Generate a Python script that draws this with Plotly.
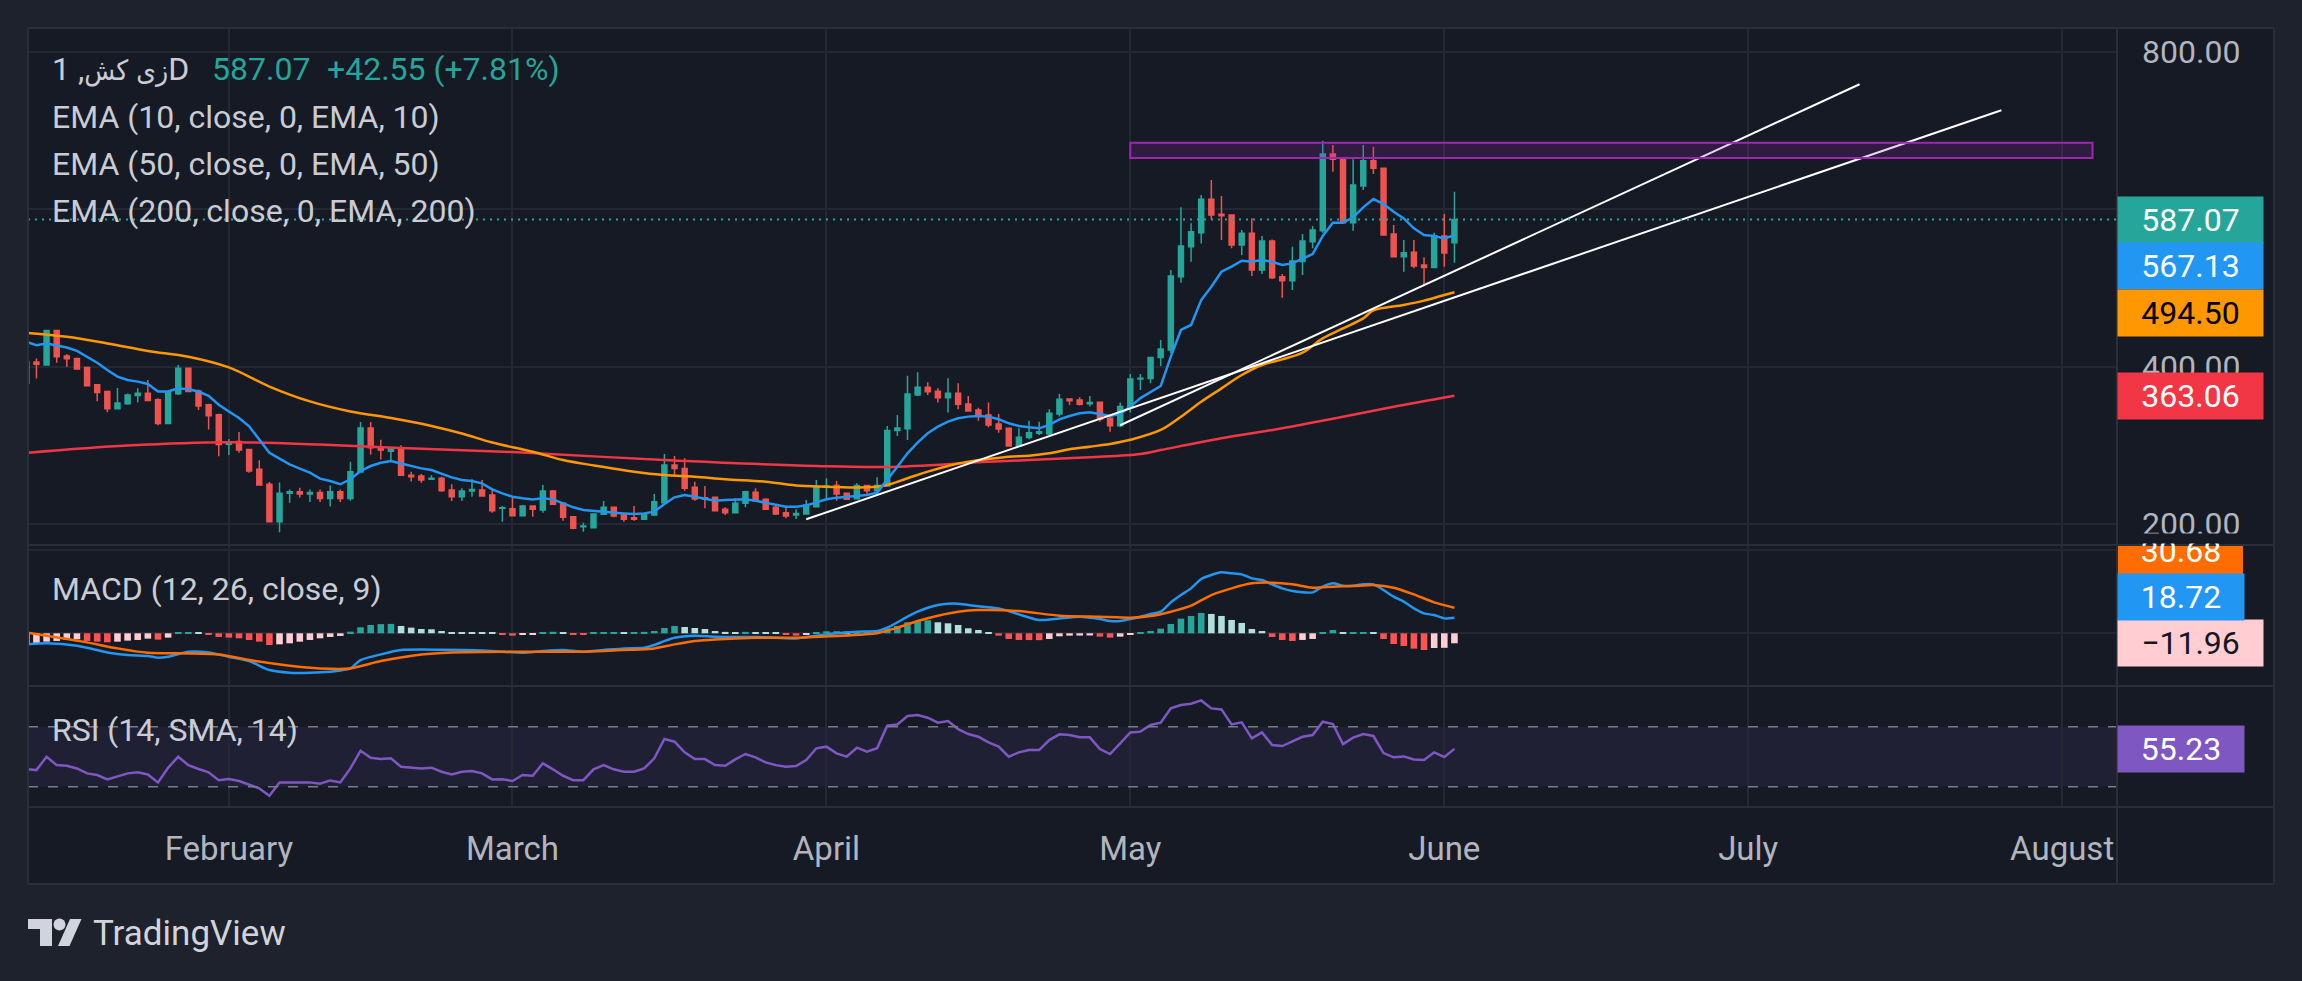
import pandas as pd
import plotly.graph_objects as go
from plotly.subplots import make_subplots

YEAR = "2023-"
FIRST_DAY = "2023-01-12"

# daily bars, one line per month: Jan 12-31, Feb, Mar, Apr, May, Jun 1-2
bar_open = [
    379, 406, 402, 446, 413.5, 410.5, 399, 377, 368.4, 346.5, 352.8, 363.4, 366.3, 358, 327.6, 365.5, 398, 369, 351.6, 339,
    301.5, 305, 294.7, 269.5, 250.5, 203, 239, 241, 238, 240, 232.4, 241, 232.4, 266, 322, 298, 292.6, 297, 262, 261, 257, 258, 243.2, 234.7, 242, 243.2, 236.8, 219.9,
    219.5, 210.6, 222.9, 217.8, 241.9, 226.3, 209.3, 196.6, 195.3, 212.3, 221.2, 211.4, 208, 205.9, 211.4, 227.1, 275, 270.7, 246.6, 233.4, 233.9, 218.6, 214.4, 226.3, 240.2, 231.3, 221.2, 214.4, 211.4, 212.7, 222,
    246.6, 249, 239, 232.2, 249, 242.4, 248.3, 318.7, 321.2, 364, 373.8, 368.7, 360.6, 366.1, 352.6, 345, 338.6, 327.2, 321.6, 299.2, 309.8, 315.3, 314.4, 339.9, 359, 357.7, 353, 354.7, 334.4, 325,
    348.3, 384.4, 385.1, 411.8, 421.2, 514.4, 552.5, 570.3, 612.7, 593.6, 592.8, 554.6, 569.5, 522.8, 559.7, 514.4, 509.3, 533.7, 558.9, 572.8, 670.3, 663.5, 583, 629.6, 661.8, 652.1, 568.6, 539.8, 545.3, 529.2, 526.2,
    566.1, 557.6,
]
bar_high = [
    408, 410.5, 447, 447, 416, 411, 400, 377, 369.7, 373, 366, 372.6, 383, 360, 368, 402, 399, 371, 353, 340,
    308, 317, 295, 281, 253.5, 252.6, 244, 246, 244, 244, 249, 244, 279, 329.7, 329.7, 307, 295.6, 300, 266.5, 263.5, 262, 260, 250.4, 245.3, 256.8, 255.9, 243.2, 222.9,
    233.5, 224, 222.9, 249.6, 243.2, 227.1, 210.1, 201.7, 213.5, 229.2, 221.2, 213.5, 222.9, 213.5, 238.1, 289, 286.4, 283.5, 253.8, 248.3, 233.9, 221.2, 232.6, 242.4, 245.3, 232.6, 224.1, 222.9, 218.6, 230.5, 256,
    258, 254.7, 239, 251.7, 249, 259.4, 324.6, 338.6, 388.6, 392.8, 380.1, 372.5, 385.2, 378.8, 362.7, 347.9, 354.3, 339.9, 321.6, 321.6, 331.4, 330.1, 345.8, 365.3, 359.8, 361, 362.7, 354.7, 336.5, 354.3,
    390.7, 390.7, 412.7, 433.9, 522.8, 602.5, 582.2, 618.2, 637.2, 616.9, 592.8, 573.7, 588.5, 566.1, 561.8, 517.8, 552.5, 568.6, 578.8, 687.2, 681.7, 665, 663.5, 681.7, 679.6, 652.1, 580, 561, 561, 539, 570.3,
    594, 622.4,
]
bar_low = [
    378, 385, 402, 405, 400, 397, 375.6, 356, 342, 346.5, 351.6, 354.5, 357, 325.5, 327.6, 364, 368.4, 345, 320, 286,
    287.6, 290.5, 265, 249.7, 203, 189.5, 227, 233.7, 228, 228, 222.3, 228, 229.6, 266, 288.4, 282, 280, 262, 254, 252.5, 257, 241, 229.2, 229.2, 234.7, 234.7, 214.4, 203,
    210.6, 210.6, 209.3, 214.4, 225, 204.2, 193.2, 190.2, 195.3, 211.4, 208.5, 203, 204.2, 205, 210.1, 227.1, 262.3, 242.4, 229.6, 219.9, 216, 211.4, 214.4, 221.2, 228.4, 217.8, 211.4, 207.2, 206.3, 212.7, 222,
    232.7, 229.7, 230.5, 232.2, 235.6, 242.4, 248.3, 311.9, 306.8, 362.7, 364, 354.3, 341.6, 345.8, 342.8, 331.4, 322.9, 316.1, 298.3, 299.2, 307.7, 313.2, 313.2, 336.5, 351.3, 350.5, 349.2, 330.1, 317.4, 322.9,
    341.6, 370.4, 378.8, 400.8, 416.9, 506.8, 533.4, 556.7, 587.2, 561, 550.4, 541.9, 515.2, 517.8, 511.4, 487.7, 497.4, 516.5, 550.4, 570.3, 647.8, 582, 572.8, 624.5, 644.9, 567.3, 539.8, 520.7, 525, 503.8, 526.2,
    527.1, 532,
]
bar_close = [
    406, 403, 446, 412.6, 410, 397, 375.6, 367, 346.5, 353.7, 364, 366.3, 357, 327.6, 367.6, 398, 368.4, 350, 337.7, 301,
    304.4, 294, 267.4, 249.7, 203, 239, 241, 238, 240, 232.4, 241, 232.4, 266.5, 322, 297, 294, 295.6, 262, 260, 255.9, 258, 242.4, 234.7, 241.9, 244, 235.6, 216.9, 220.8,
    210.6, 222.9, 218.6, 241.9, 225, 208.5, 194.5, 197.5, 212.7, 221.2, 210.1, 205.9, 205.9, 212.3, 228.4, 275, 270.7, 245.3, 231.8, 231.8, 216.9, 214.4, 226.3, 241.1, 229.6, 218.6, 212.7, 210.1, 213.5, 224.1, 247.5,
    248.3, 238, 231.4, 249, 242.4, 249, 318.7, 322, 365.3, 373.8, 368.2, 360.6, 366.1, 352.1, 343.7, 338.6, 325.9, 320.8, 299.2, 310.2, 316.1, 317.4, 340.7, 358.5, 356.8, 352.1, 354.3, 333.1, 325, 349.2,
    384.4, 385.2, 411.8, 422.4, 515.2, 553.4, 571.6, 612.7, 592.8, 591.9, 554.6, 569.5, 522.8, 559.7, 513.1, 509.3, 534.3, 559.7, 573.7, 670.3, 663.5, 583, 630.9, 661.8, 652.1, 567.3, 539.8, 544.9, 527.9, 526.2, 566.1,
    544.52, 587.07,
]
ema10 = [
    431.6, 427.4, 429.5, 427.4, 424.4, 420, 412.6, 405, 395.8, 387.4, 383, 381, 378, 368.4, 368.4, 372.6, 371.4, 368.4, 363, 351.6,
    343, 334.7, 324.2, 307.4, 290.5, 283, 275.8, 270.3, 265.3, 257.7, 254.7, 250.5, 256.8, 267.4, 273.7, 277.9, 280, 277, 273.7, 270.7, 268.6, 263.5, 259.3, 255.9, 254.6, 251.7, 244, 239,
    234.7, 232.6, 231.3, 232.6, 231.3, 226.3, 221.2, 217.8, 216.5, 215.7, 214.8, 213.5, 212.7, 213.5, 215.7, 225.4, 233.9, 236.8, 234.7, 232.6, 229.6, 230.5, 230.5, 231.3, 229.6, 227.1, 224.1, 222, 222, 223.5, 227.5,
    231.4, 233.5, 234.8, 235.6, 236.9, 239.9, 256, 272.9, 289.9, 303.4, 315.3, 323.8, 330.1, 334.4, 336.5, 337.3, 336.5, 333.1, 328, 324.6, 322.9, 321.6, 325.9, 333.1, 337.3, 340.7, 342, 339.9, 337.3, 340,
    349.2, 360, 368.2, 375.4, 412.7, 446.6, 453, 484.7, 501.7, 520.7, 527.1, 534.7, 533.4, 535.6, 533.4, 529.2, 531.3, 537.7, 543.2, 566.1, 583, 583, 589.8, 602.5, 613.1, 606.7, 597, 588.5, 575.8, 567.3, 566.1,
    563.1, 567.13,
]
macd_hist = [
    -13.2, -12, -10, -9.2, -8, -7.2, -9.2, -10, -10.8, -10, -8.8, -8, -6.4, -7.6, -5.2, 0.8, 1.0, 0.6, -1.2, -4.4,
    -5.2, -6, -8, -10, -14, -13.2, -12, -10, -8, -6, -4.4, -3.2, 2, 7.2, 10, 11, 11.3, 8.8, 6.8, 5.2, 4.8, 2.8, 1.6, 1.3, 1.2, 0.9, 0.8, -1.6,
    -2.8, -1.6, -1.4, 1.6, 1.8, 0.8, -1.2, -1.4, 0.4, 0.8, 1.6, 1.2, 1.6, 1.7, 2.8, 6.4, 8.8, 7.6, 6.4, 5.2, 2.8, 1.7, 1.5, 1.7, 1.6, 0.8, 0.6, -1.2, -2.8, -1.2, 0.8,
    2.4, 2.5, 2.0, 2.2, 2.4, 2.8, 6, 8.8, 13.2, 14.4, 15.6, 13.2, 12, 10, 6, 4, 0.8, -2.8, -6.8, -8, -8.1, -8.2, -6.8, -3.6, -2.8, -2.7, -2.6, -4, -5.2, -4,
    -2, 0.8, 2.8, 5.6, 11.2, 17.6, 20.8, 24.4, 23.2, 20.8, 16, 12.4, 5.2, 2.8, -4.4, -8, -9.2, -8, -6.8, 0.8, 4, 0.8, 1.0, 1.6, 1.4, -6.8, -12.8, -15.2, -18.4, -20, -17.6,
    -17.4, -11.96,
]
rsi = [
    41.8, 41.1, 50, 44.4, 44, 42.2, 38.9, 37.8, 34.9, 36.7, 38.9, 39.6, 38.2, 32.9, 42.7, 50, 44.4, 41.8, 39.6, 34.4,
    35.1, 33.8, 31.1, 28.9, 24, 32.9, 32.9, 32.9, 32.9, 32, 34.2, 32.9, 42.2, 54, 49.3, 48.4, 48.9, 43.3, 42.7, 42.2, 42.7, 40, 38.2, 40, 40.4, 38.9, 34.9, 35,
    33.8, 37.8, 37.3, 45.6, 41.6, 37.3, 34.4, 34.4, 41.6, 44.4, 41.6, 40, 40, 42.2, 48.9, 61.8, 60, 52.9, 48.4, 48.4, 44.4, 44, 48.2, 51.8, 49.6, 46.2, 44.4, 43.3, 43.8, 47.8, 55.6,
    56.7, 52.2, 50, 56, 53.3, 55.6, 70.7, 71.5, 77.1, 77.8, 76, 72.7, 73.8, 68.4, 65.1, 63.3, 59.5, 56.7, 50, 52.9, 54.4, 54.4, 61.1, 64.9, 64.4, 62.9, 62.9, 55.1, 51.8, 58.9,
    66.2, 66.7, 71.1, 72.7, 82.2, 84.4, 85.3, 87.5, 82.2, 81.5, 71.5, 72.9, 62.2, 66.2, 57.8, 57.1, 60, 63.3, 64.4, 73.3, 71.8, 58.4, 62.7, 65.1, 63.8, 52.4, 49.6, 50.2, 48.2, 47.8, 52.9,
    49.8, 55.23,
]

# slower lines, read at sample days
ema50_days = [
    "01-12", "01-16", "01-20", "01-24", "01-28",
    "02-01", "02-05", "02-09", "02-13", "02-17", "02-21", "02-24", "02-27",
    "03-03", "03-06", "03-09", "03-13", "03-16", "03-19", "03-22", "03-26", "03-29",
    "04-01", "04-05", "04-07", "04-09", "04-11", "04-13", "04-15", "04-17", "04-19", "04-21", "04-23", "04-25", "04-27", "04-29",
    "05-01", "05-04", "05-06", "05-08", "05-10", "05-12", "05-14", "05-16", "05-18", "05-20", "05-22", "05-24", "05-25", "05-28", "05-30",
    "06-01", "06-02",
]
ema50 = [
    443, 438, 429.5, 420, 412.6,
    399, 374.7, 355.8, 343, 334.7, 324.6, 315, 303.5,
    291.9, 281.3, 274.5, 266.5, 262.3, 260.2, 257, 253.8, 249,
    247.5, 246.6, 249.6, 258.1, 266.6, 273.8, 279.3, 282.7, 285.6, 286.9, 289.9, 295, 298.3, 301.7,
    307, 319.5, 336.4, 355.5, 372.4, 389.4, 402.1, 409.3, 417.8, 436, 448.7, 461.4, 471.5, 478.4, 483.9,
    491.1, 494.5,
]
ema200_days = ["01-12", "01-22", "02-01", "02-10", "02-18", "03-01", "03-16", "03-31", "04-07",
               "04-17", "04-27", "05-02", "05-04", "05-10", "05-16", "05-22", "05-27", "06-02"]
ema200 = [290.5, 299.8, 304, 301, 296.5, 291.5, 281.3, 273.7, 272.5,
          279, 284.8, 289, 294, 308.9, 321.6, 336.4, 349.1, 363.06]

macd_days = [
    "01-12", "01-14", "01-17", "01-20", "01-22", "01-24", "01-25", "01-26", "01-28", "01-30",
    "02-01", "02-03", "02-05", "02-07", "02-09", "02-11", "02-12", "02-13", "02-14", "02-16", "02-18", "02-22", "02-26", "02-28",
    "03-02", "03-04", "03-06", "03-08", "03-10", "03-12", "03-14", "03-15", "03-16", "03-17", "03-19", "03-21", "03-23", "03-25", "03-27", "03-29", "03-31",
    "04-02", "04-04", "04-06", "04-07", "04-08", "04-09", "04-10", "04-11", "04-12", "04-13", "04-14", "04-15", "04-16", "04-18", "04-20", "04-22", "04-24", "04-26", "04-28", "04-29", "04-30",
    "05-01", "05-02", "05-03", "05-04", "05-05", "05-06", "05-07", "05-08", "05-09", "05-10", "05-11", "05-12", "05-13", "05-14", "05-15", "05-16",
    "05-17", "05-18", "05-19", "05-20", "05-21", "05-22", "05-23", "05-24", "05-25", "05-26", "05-27", "05-28", "05-29", "05-30", "05-31",
    "06-01", "06-02",
]
macd_line = [
    -13.3, -12, -14.9, -22.9, -26.1, -27.3, -29.3, -28.1, -22.1, -22.9,
    -28.1, -33.3, -44.1, -47.3, -47.3, -46.1, -44.5, -42.1, -32.1, -25.3, -20.1, -19.7, -20.5, -22.1,
    -23.3, -21.3, -20.1, -22.1, -20.1, -18.1, -17.3, -14.1, -9.3, -5.3, -2.9, -4.1, -4.5, -4.5, -5.3, -6.1, -2.9,
    0, 1.9, 2.7, 6.7, 13.1, 19.9, 25.9, 30.7, 33.9, 35.5, 35.5, 33.9, 32.5, 29.9, 22.7, 15.9, 17.9, 19.9, 17.1, 14.7, 14.7,
    17.1, 19.9, 23.1, 25.9, 37.1, 45.9, 53.9, 65.1, 69.9, 73.1, 71.9, 70.7, 65.9, 63.9, 58.7, 53.9,
    50.7, 49.1, 49.1, 55.9, 59.9, 57.1, 57.1, 58.7, 58.7, 51.9, 43.9, 37.9, 29.9, 23.9, 21.9,
    17.9, 18.72,
]
signal_days = [
    "01-12", "01-14", "01-18", "01-21", "01-24", "01-28", "01-31",
    "02-03", "02-07", "02-10", "02-13", "02-16", "02-20", "02-23", "02-28",
    "03-04", "03-08", "03-12", "03-15", "03-17", "03-19", "03-21", "03-25", "03-29",
    "04-02", "04-06", "04-08", "04-10", "04-12", "04-14", "04-16", "04-20", "04-24", "04-28",
    "05-01", "05-03", "05-05", "05-07", "05-09", "05-11", "05-13", "05-15", "05-17", "05-19", "05-21", "05-23", "05-25", "05-27", "05-29", "05-31",
    "06-02",
]
signal_line = [
    1.1, -2.9, -10.9, -18.1, -23.3, -24.1, -25.3,
    -32.1, -38.9, -42.1, -42.1, -33.3, -25.3, -22.9, -22.1,
    -22.1, -22.1, -20.1, -18.1, -13.3, -9.3, -7.3, -5.3, -5.3,
    -3.3, 0, 6.7, 14.7, 21.1, 25.9, 27.9, 26.7, 21.1, 19.9,
    18.7, 20.7, 25.9, 33.1, 45.9, 53.9, 59.9, 60.7, 58.7, 54.7, 55.9, 56.7, 57.9, 54.7, 46.7, 37.1,
    30.68,
]

# drawings on the price pane
trend_days = [("03-30", "07-26"), ("04-30", "07-12")]
trend_prices = [(206, 726), (325.5, 759)]
zone_days = ("05-01", "08-04")
zone_prices = (665.2, 684.7)

symbol_name = "زی کش"
price_change = 42.55
price_change_pct = 7.81

GREEN = "#26a69a"
RED = "#ef5350"
OUTER = "#1e222d"
PANE = "#161a25"
GRID = "#242833"
BORDER = "#2a2e39"
TEXT = "#c9ccd4"
SCALE_TEXT = "#b2b5be"
FONT = "Roboto"

# pixel frame of the panes
PL, PR, PT, PB = 28, 2117, 28, 807
SCALE_R = 2274
TIME_B = 884
PANE_H = [517, 141, 121]


def fx(px):
    return (px - PL) / (PR - PL)


def fy(py):
    return (PB - py) / (PB - PT)


def full(days):
    return [YEAR + d for d in days]


days = pd.date_range(FIRST_DAY, periods=len(bar_close), freq="D")

hist_colors = []
prev = macd_hist[0]
for h in macd_hist:
    if h >= 0:
        hist_colors.append("#26a69a" if h > prev else "#b2dfdb")
    else:
        hist_colors.append("#ff5252" if h < prev else "#ffcdd2")
    prev = h

fig = make_subplots(rows=3, cols=1, shared_xaxes=True, vertical_spacing=0, row_heights=PANE_H)

fig.add_trace(
    go.Candlestick(
        x=days, open=bar_open, high=bar_high, low=bar_low, close=bar_close,
        increasing=dict(line=dict(color=GREEN, width=1.5), fillcolor=GREEN),
        decreasing=dict(line=dict(color=RED, width=1.5), fillcolor=RED),
    ),
    row=1, col=1,
)
fig.add_trace(go.Scatter(x=full(ema200_days), y=ema200, mode="lines", line=dict(color="#f23645", width=2.5, shape="spline")), row=1, col=1)
fig.add_trace(go.Scatter(x=full(ema50_days), y=ema50, mode="lines", line=dict(color="#ff9800", width=2.5, shape="spline")), row=1, col=1)
fig.add_trace(go.Scatter(x=days, y=ema10, mode="lines", line=dict(color="#2196f3", width=2.5)), row=1, col=1)
for (d0, d1), (p0, p1) in zip(trend_days, trend_prices):
    fig.add_trace(go.Scatter(x=full([d0, d1]), y=[p0, p1], mode="lines", line=dict(color="#ffffff", width=2)), row=1, col=1)

fig.add_trace(go.Bar(x=days, y=macd_hist, marker=dict(color=hist_colors, line_width=0)), row=2, col=1)
fig.add_trace(go.Scatter(x=full(macd_days), y=macd_line, mode="lines", line=dict(color="#2196f3", width=2.5, shape="spline", smoothing=0.6)), row=2, col=1)
fig.add_trace(go.Scatter(x=full(signal_days), y=signal_line, mode="lines", line=dict(color="#ff6d00", width=2.5, shape="spline", smoothing=0.6)), row=2, col=1)

fig.add_trace(go.Scatter(x=days, y=rsi, mode="lines", line=dict(color="#7e57c2", width=2.5)), row=3, col=1)

fig.update_xaxes(
    range=["2023-01-12 04:00", "2023-08-06 10:00"],
    showgrid=True, gridcolor=GRID, gridwidth=1.5,
    dtick="M1", tick0="2023-02-01", tickformat="%B", ticks="",
    showline=False, zeroline=False, rangeslider_visible=False,
    tickfont=dict(family=FONT, size=33, color=SCALE_TEXT), ticklabelstandoff=19,
)
fig.update_yaxes(side="right", showgrid=True, gridcolor=GRID, gridwidth=1.5, zeroline=False, showline=False, ticks="")
fig.update_yaxes(
    row=1, col=1, range=[173.3, 830.5], tickvals=[200, 400, 600, 800], tickformat=".2f",
    tickfont=dict(family=FONT, size=32, color=SCALE_TEXT), ticklabelstandoff=24,
)
fig.update_yaxes(row=2, col=1, range=[-63.2, 105.9], tickvals=[0, 100], showticklabels=False)
fig.update_yaxes(row=3, col=1, range=[16.5, 97.1], showgrid=False, showticklabels=False)

sep1 = PT + PANE_H[0]
sep2 = sep1 + PANE_H[1]
shapes = [
    dict(type="rect", xref="paper", yref="paper", x0=fx(PR), x1=fx(SCALE_R), y0=fy(TIME_B), y1=fy(PT),
         fillcolor=PANE, line_width=0, layer="below"),
    dict(type="rect", xref="paper", yref="paper", x0=fx(PL), x1=fx(PR), y0=fy(TIME_B), y1=fy(PB),
         fillcolor=PANE, line_width=0, layer="below"),
    dict(type="rect", xref="paper", yref="y3", x0=0, x1=1, y0=30, y1=70,
         fillcolor="rgba(126,87,194,0.1)", line_width=0, layer="below"),
    dict(type="line", xref="paper", yref="y3", x0=0, x1=1, y0=70, y1=70, line=dict(color="#787b86", width=1.5, dash="10px,10px")),
    dict(type="line", xref="paper", yref="y3", x0=0, x1=1, y0=30, y1=30, line=dict(color="#787b86", width=1.5, dash="10px,10px")),
    dict(type="line", xref="paper", yref="y", x0=0, x1=1, y0=bar_close[-1], y1=bar_close[-1],
         line=dict(color=GREEN, width=2, dash="2px,5px")),
    dict(type="rect", xref="x", yref="y", x0=YEAR + zone_days[0], x1=YEAR + zone_days[1],
         y0=zone_prices[0], y1=zone_prices[1], fillcolor="rgba(156,39,176,0.2)", line=dict(color="#9c27b0", width=2)),
]
for py in (PT, sep1, sep2, PB, TIME_B):
    shapes.append(dict(type="line", xref="paper", yref="paper", x0=fx(PL), x1=fx(SCALE_R), y0=fy(py), y1=fy(py),
                       line=dict(color=BORDER, width=2)))
for px in (PL, PR, SCALE_R):
    shapes.append(dict(type="line", xref="paper", yref="paper", x0=fx(px), x1=fx(px), y0=fy(PT), y1=fy(TIME_B),
                       line=dict(color=BORDER, width=2)))

# TradingView logo
LOGO = "#d1d4dc"
shapes += [
    dict(type="rect", xref="paper", yref="paper", x0=fx(28), x1=fx(52), y0=fy(929), y1=fy(919), fillcolor=LOGO, line_width=0),
    dict(type="rect", xref="paper", yref="paper", x0=fx(40), x1=fx(52), y0=fy(946), y1=fy(919), fillcolor=LOGO, line_width=0),
    dict(type="circle", xref="paper", yref="paper", x0=fx(53.5), x1=fx(65.5), y0=fy(930.5), y1=fy(918.5), fillcolor=LOGO, line_width=0),
    dict(type="path", xref="paper", yref="paper", fillcolor=LOGO, line_width=0,
         path=f"M {fx(70)} {fy(919)} L {fx(81.5)} {fy(919)} L {fx(69.5)} {fy(946)} L {fx(58)} {fy(946)} Z"),
]

# MACD signal label is pushed to the pane top and clipped there
shapes.append(dict(type="rect", xref="paper", yref="paper", x0=fx(PR + 1), x1=fx(2243), y0=fy(574), y1=fy(sep1 + 1),
                   fillcolor="#ff6d00", line_width=0))


def fmt(v):
    return f"{v:.2f}".replace("-", "\u2212")


def scale_label(value, yref, bg, fg, shift=0, width=145):
    return dict(xref="paper", x=1, xanchor="left", yref=yref, y=value, yanchor="middle", yshift=shift,
                text=fmt(value), showarrow=False, bgcolor=bg, width=width, height=46, borderpad=0,
                font=dict(family=FONT, size=32, color=fg))


def legend(text, px, py, color=TEXT):
    return dict(xref="paper", yref="paper", x=fx(px), y=fy(py), xanchor="left", yanchor="middle",
                text=text, showarrow=False, font=dict(family=FONT, size=32, color=color))


title = ("1 ," + "<span style='font-family:DejaVu Sans Condensed;font-size:28px'>"
         + symbol_name + "</span>D")

annotations = [
    legend(title, 50, 69),
    legend(fmt(bar_close[-1]), 210, 69, GREEN),
    legend(f"+{price_change:.2f} (+{price_change_pct:.2f}%)", 325, 69, GREEN),
    legend("EMA (10, close, 0, EMA, 10)", 50, 117),
    legend("EMA (50, close, 0, EMA, 50)", 50, 164),
    legend("EMA (200, close, 0, EMA, 200)", 50, 211),
    legend("MACD (12, 26, close, 9)", 50, 589),
    legend("RSI (14, SMA, 14)", 50, 730),
    scale_label(bar_close[-1], "y", GREEN, "#ffffff"),
    scale_label(ema10[-1], "y", "#2196f3", "#ffffff", shift=-31),
    scale_label(ema50[-1], "y", "#ff9800", "#000000", shift=-21),
    scale_label(ema200[-1], "y", "#f23645", "#ffffff"),
    scale_label(macd_hist[-1], "y2", "#ffcdd2", "#131722"),
    scale_label(macd_line[-1], "y2", "#2196f3", "#ffffff", shift=21, width=126),
    dict(xref="paper", x=1, xanchor="left", yref="y2", y=signal_line[-1], yanchor="middle", yshift=57,
         text=fmt(signal_line[-1]), showarrow=False, width=126, height=46, borderpad=0,
         font=dict(family=FONT, size=32, color="#ffffff")),
    # hides the part of the clipped label above the pane border
    dict(xref="paper", yref="paper", x=fx(PR + 2), y=fy(sep1 - 1), xanchor="left", yanchor="bottom",
         text=" ", showarrow=False, bgcolor=PANE, width=150, height=9, borderpad=0, font=dict(size=6)),
    scale_label(rsi[-1], "y3", "#7e57c2", "#ffffff", width=126),
    dict(xref="paper", yref="paper", x=fx(91), y=fy(934), xanchor="left", yanchor="middle",
         text="TradingView", showarrow=False, font=dict(family=FONT, size=35, color=LOGO)),
]

fig.update_layout(
    width=2302, height=981,
    margin=dict(l=PL, r=2302 - PR, t=PT, b=981 - PB),
    paper_bgcolor=OUTER, plot_bgcolor=PANE,
    font=dict(family=FONT, color=TEXT),
    showlegend=False, bargap=0.35,
    xaxis_rangeslider_visible=False,
    shapes=shapes, annotations=annotations,
)

fig.write_html("out.html", config={"displayModeBar": False}, post_script="document.body.style.margin='0';")
